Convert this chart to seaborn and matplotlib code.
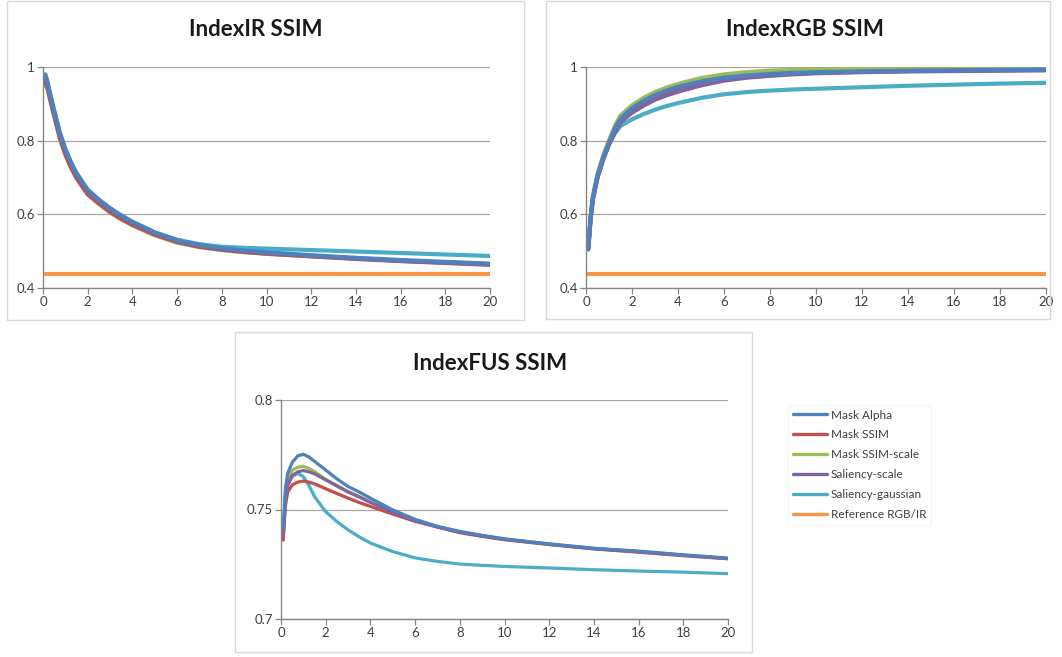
import matplotlib
matplotlib.use("Agg")
import matplotlib.pyplot as plt
from matplotlib.lines import Line2D
from matplotlib.patches import Rectangle
import numpy as np
import pandas as pd
import seaborn as sns

# Sample positions along the horizontal axis
x_vals = [0.1, 0.2, 0.3, 0.5, 0.75, 1.0, 1.25, 1.5, 2, 2.5, 3, 3.5, 4, 5, 6, 7, 8, 9,
          10, 12, 14, 16, 18, 20]

series_names = ["Mask Alpha", "Mask SSIM", "Mask SSIM-scale", "Saliency-scale",
                "Saliency-gaussian", "Reference RGB/IR"]

# IndexIR SSIM
ir_mask_alpha = [0.980, 0.960, 0.932, 0.882, 0.823, 0.778, 0.742, 0.712, 0.667, 0.640, 0.617, 0.597,
                 0.580, 0.551, 0.530, 0.517, 0.508, 0.502, 0.497, 0.489, 0.482, 0.476, 0.471, 0.466]
ir_mask_ssim = [0.960, 0.945, 0.918, 0.868, 0.808, 0.763, 0.728, 0.699, 0.655, 0.630, 0.607, 0.588,
                0.572, 0.545, 0.525, 0.512, 0.504, 0.498, 0.493, 0.486, 0.479, 0.473, 0.468, 0.463]
ir_mask_ssim_scale = [0.950, 0.942, 0.915, 0.866, 0.806, 0.762, 0.727, 0.698, 0.654, 0.628, 0.605, 0.586,
                      0.570, 0.543, 0.523, 0.511, 0.503, 0.497, 0.493, 0.486, 0.480, 0.474, 0.469, 0.465]
ir_saliency_scale = [0.975, 0.955, 0.927, 0.877, 0.817, 0.772, 0.737, 0.707, 0.662, 0.636, 0.613, 0.594,
                     0.577, 0.549, 0.528, 0.515, 0.506, 0.500, 0.495, 0.487, 0.480, 0.474, 0.469, 0.464]
ir_saliency_gauss = [0.978, 0.958, 0.930, 0.880, 0.820, 0.775, 0.740, 0.710, 0.664, 0.638, 0.615, 0.596,
                     0.579, 0.551, 0.531, 0.519, 0.512, 0.509, 0.507, 0.503, 0.499, 0.495, 0.491, 0.487]
ir_reference = 0.437

# IndexRGB SSIM
rgb_mask_alpha = [0.505, 0.590, 0.645, 0.705, 0.755, 0.795, 0.832, 0.860, 0.888, 0.908, 0.924, 0.936,
                  0.946, 0.961, 0.971, 0.977, 0.981, 0.984, 0.986, 0.988, 0.990, 0.991, 0.992, 0.993]
rgb_mask_ssim = [0.510, 0.590, 0.642, 0.700, 0.750, 0.791, 0.825, 0.853, 0.880, 0.900, 0.916, 0.929,
                 0.939, 0.955, 0.967, 0.974, 0.979, 0.982, 0.984, 0.987, 0.989, 0.990, 0.991, 0.992]
rgb_mask_ssim_scale = [0.510, 0.595, 0.650, 0.710, 0.760, 0.801, 0.839, 0.868, 0.896, 0.916, 0.932, 0.944,
                       0.954, 0.970, 0.980, 0.986, 0.990, 0.992, 0.994, 0.996, 0.997, 0.997, 0.998, 0.998]
rgb_saliency_scale = [0.505, 0.588, 0.640, 0.700, 0.750, 0.790, 0.823, 0.850, 0.876, 0.895, 0.911, 0.923,
                      0.933, 0.950, 0.963, 0.971, 0.976, 0.980, 0.983, 0.986, 0.988, 0.989, 0.990, 0.991]
rgb_saliency_gauss = [0.510, 0.590, 0.645, 0.702, 0.750, 0.790, 0.819, 0.840, 0.858, 0.872, 0.884, 0.894,
                      0.902, 0.916, 0.926, 0.932, 0.936, 0.939, 0.941, 0.945, 0.949, 0.952, 0.955, 0.957]
rgb_reference = 0.437

# IndexFUS SSIM
fus_mask_alpha = [0.7410, 0.7600, 0.7665, 0.7715, 0.7745, 0.7752, 0.7740, 0.7720, 0.7680, 0.7640, 0.7605,
                  0.7580, 0.7552, 0.7498, 0.7455, 0.7423, 0.7400, 0.7382, 0.7366, 0.7343, 0.7323,
                  0.7310, 0.7293, 0.7278]
fus_mask_ssim = [0.7360, 0.7520, 0.7580, 0.7612, 0.7625, 0.7630, 0.7625, 0.7617, 0.7595, 0.7573, 0.7552,
                 0.7532, 0.7514, 0.7479, 0.7446, 0.7420, 0.7394, 0.7377, 0.7362, 0.7340, 0.7320,
                 0.7305, 0.7289, 0.7275]
fus_mask_ssim_scale = [0.7390, 0.7570, 0.7635, 0.7680, 0.7693, 0.7697, 0.7688, 0.7673, 0.7638, 0.7610,
                       0.7582, 0.7560, 0.7536, 0.7490, 0.7452, 0.7421, 0.7398, 0.7380, 0.7365, 0.7342,
                       0.7322, 0.7308, 0.7292, 0.7277]
fus_saliency_scale = [0.7380, 0.7550, 0.7610, 0.7655, 0.7672, 0.7678, 0.7672, 0.7663, 0.7635, 0.7607,
                      0.7580, 0.7557, 0.7532, 0.7488, 0.7450, 0.7420, 0.7397, 0.7380, 0.7364, 0.7341,
                      0.7321, 0.7307, 0.7291, 0.7276]
fus_saliency_gauss = [0.7400, 0.7560, 0.7620, 0.7650, 0.7665, 0.7650, 0.7610, 0.7559, 0.7490, 0.7445,
                      0.7407, 0.7375, 0.7347, 0.7308, 0.7279, 0.7263, 0.7251, 0.7245, 0.7240, 0.7233,
                      0.7225, 0.7219, 0.7214, 0.7207]

x_ticks = list(range(0, 21, 2))
colors = ["#4F81BD", "#C0504D", "#9BBB59", "#8064A2", "#4BACC6", "#F79646"]
palette = dict(zip(series_names, colors))
# Drawing order: the reference line first, then the methods with Mask Alpha on top
draw_order = ["Reference RGB/IR", "Saliency-gaussian", "Mask SSIM-scale", "Mask SSIM",
              "Saliency-scale", "Mask Alpha"]


def long_frame(columns):
    rows = []
    for name in draw_order:
        if name not in columns:
            continue
        values = columns[name]
        if np.isscalar(values):
            values = [values] * len(x_vals)
        for xv, yv in zip(x_vals, values):
            rows.append({"x": xv, "value": yv, "series": name})
    return pd.DataFrame(rows)


ir_df = long_frame(dict(zip(series_names, [ir_mask_alpha, ir_mask_ssim, ir_mask_ssim_scale,
                                           ir_saliency_scale, ir_saliency_gauss, ir_reference])))
rgb_df = long_frame(dict(zip(series_names, [rgb_mask_alpha, rgb_mask_ssim, rgb_mask_ssim_scale,
                                            rgb_saliency_scale, rgb_saliency_gauss, rgb_reference])))
fus_df = long_frame(dict(zip(series_names[:5], [fus_mask_alpha, fus_mask_ssim, fus_mask_ssim_scale,
                                                fus_saliency_scale, fus_saliency_gauss])))

sns.set_theme(style="white")
plt.rcParams["font.family"] = ["Lato", "DejaVu Sans"]

W, H = 1062, 657
fig = plt.figure(figsize=(W / 100, H / 100), dpi=100)
fig.patch.set_facecolor("white")


def px_rect(x0, y0, x1, y1):
    return [x0 / W, 1 - y1 / H, (x1 - x0) / W, (y1 - y0) / H]


# Light panel outlines
for (x0, y0, x1, y1) in [(7, 1, 524, 320), (546, 1, 1050, 319), (235, 332, 752, 652)]:
    l, b, w, h = px_rect(x0, y0, x1, y1)
    fig.add_artist(Rectangle((l, b), w, h, transform=fig.transFigure, fill=False,
                             edgecolor="#d9d9d9", linewidth=1.0))

grid_color = "#a6a6a6"
axis_color = "#868686"
text_color = "#404040"


def style_axes(ax, ylim, yticks, ylabels):
    ax.set_xlim(0, 20)
    ax.set_ylim(*ylim)
    ax.set_xticks(x_ticks)
    ax.set_xticklabels([str(t) for t in x_ticks])
    ax.set_yticks(yticks)
    ax.set_yticklabels(ylabels)
    ax.set_xlabel("")
    ax.set_ylabel("")
    for s in ["top", "right"]:
        ax.spines[s].set_visible(False)
    for s in ["left", "bottom"]:
        ax.spines[s].set_color(axis_color)
        ax.spines[s].set_linewidth(1.0)
    ax.yaxis.grid(True, color=grid_color, linewidth=0.9)
    ax.xaxis.grid(False)
    ax.set_axisbelow(True)
    ax.tick_params(axis="both", direction="out", length=4, width=0.9, color=axis_color,
                   labelsize=9.5, labelcolor=text_color, pad=2, bottom=True, left=True)


ax1 = fig.add_axes(px_rect(43, 67, 490, 288))
sns.lineplot(data=ir_df, x="x", y="value", hue="series", hue_order=draw_order, palette=palette,
             linewidth=3.0, ax=ax1, legend=False)
style_axes(ax1, (0.4, 1.0), [0.4, 0.6, 0.8, 1.0], ["0.4", "0.6", "0.8", "1"])

ax2 = fig.add_axes(px_rect(586, 67, 1046, 288))
sns.lineplot(data=rgb_df, x="x", y="value", hue="series", hue_order=draw_order, palette=palette,
             linewidth=3.0, ax=ax2, legend=False)
style_axes(ax2, (0.4, 1.0), [0.4, 0.6, 0.8, 1.0], ["0.4", "0.6", "0.8", "1"])

ax3 = fig.add_axes(px_rect(281, 400, 728, 619))
sns.lineplot(data=fus_df, x="x", y="value", hue="series", hue_order=draw_order[1:], palette=palette,
             linewidth=2.3, ax=ax3, legend=False)
style_axes(ax3, (0.7, 0.8), [0.7, 0.75, 0.8], ["0.7", "0.75", "0.8"])

# Panel titles
title_kw = dict(ha="center", va="center", fontsize=16, fontweight="bold", color="#1a1a1a")
fig.text(256 / W, 1 - 30 / H, "IndexIR SSIM", **title_kw)
fig.text(805 / W, 1 - 30 / H, "IndexRGB SSIM", **title_kw)
fig.text(490 / W, 1 - 363 / H, "IndexFUS SSIM", **title_kw)

# Shared legend
handles = [Line2D([0], [0], color=palette[n], linewidth=2.4) for n in series_names]
leg = fig.legend(handles, series_names, loc="upper left",
                 bbox_to_anchor=(782 / W, 1 - 399 / H), frameon=True, fontsize=8.5,
                 handlelength=2.9, handletextpad=0.35, labelspacing=0.75, borderpad=0.4)
leg.get_frame().set_edgecolor("#f0f0f0")
leg.get_frame().set_linewidth(0.8)
for t in leg.get_texts():
    t.set_color(text_color)

fig.savefig("out.png", dpi=100, facecolor="white")
